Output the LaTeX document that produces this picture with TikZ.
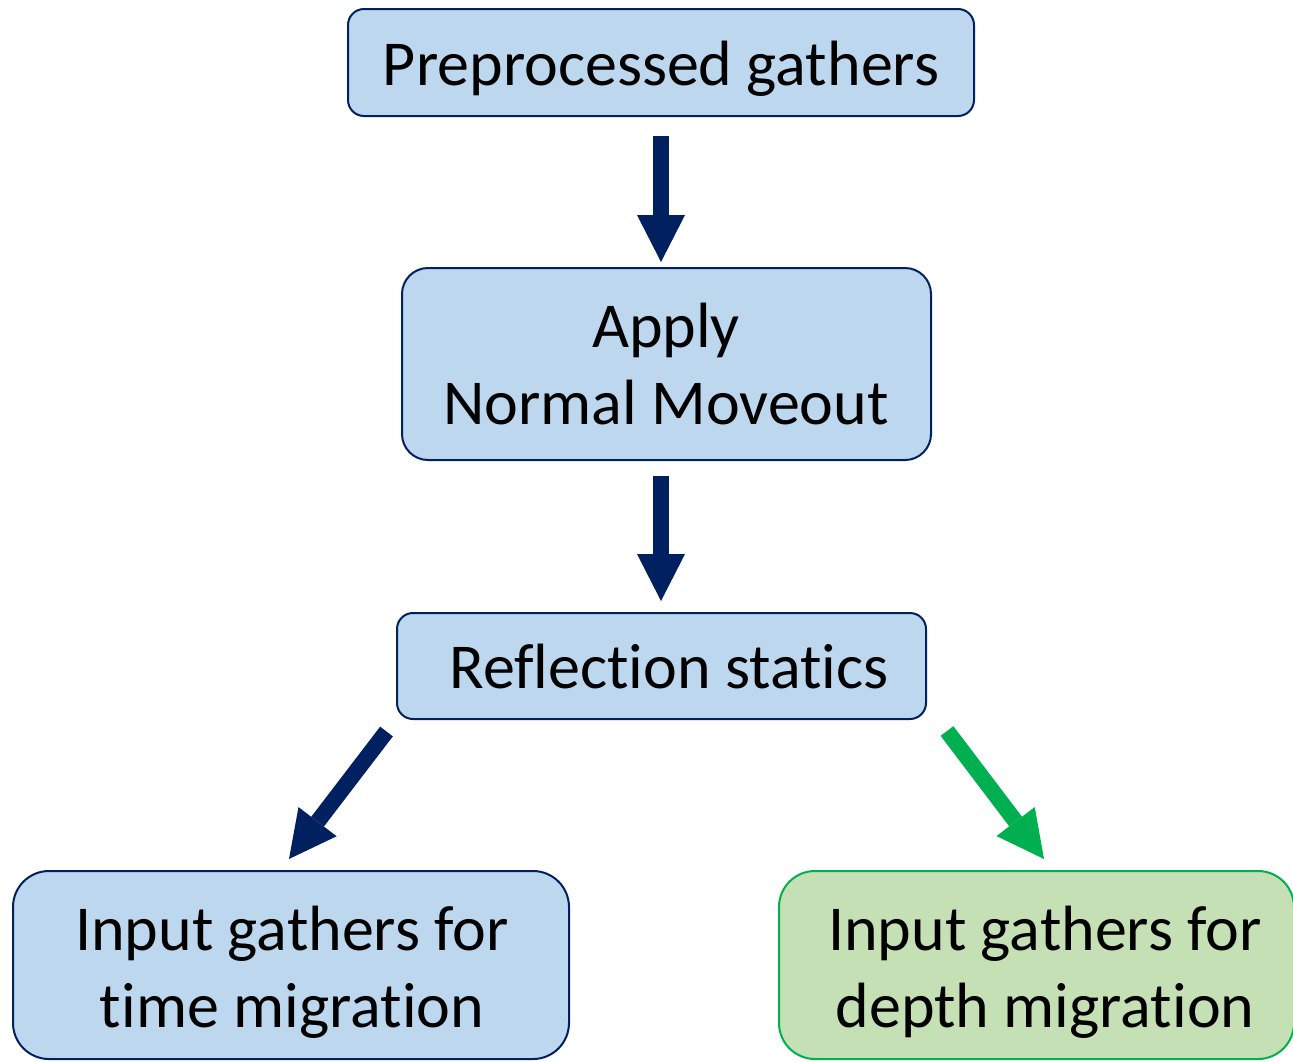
\documentclass[tikz,border=0pt]{standalone}
\usepackage{fontspec}
\setmainfont{Carlito}[Ligatures=NoCommon]
\usetikzlibrary{arrows.meta}
\definecolor{navy}{HTML}{002060}
\definecolor{boxblue}{HTML}{BDD7EE}
\definecolor{mygreen}{HTML}{00B050}
\definecolor{boxgreen}{HTML}{C5E0B4}
\begin{document}
\begin{tikzpicture}[x=1pt,y=-1pt,
  bluebox/.style={draw=navy, fill=boxblue, line width=2pt, inner sep=0pt},
  greenbox/.style={draw=mygreen, fill=boxgreen, line width=2pt, inner sep=0pt},
  lbl/.style={font=\fontsize{64}{77}\selectfont, align=center, inner sep=0pt, anchor=base},
  blockarrow/.style={line width=16pt, -{Triangle[width=48pt,length=47pt,line width=0pt]}}
]
\useasboundingbox (0,0) rectangle (1293,1061);
\clip (0,0) rectangle (1293,1061);
% boxes
\node[bluebox, rounded corners=16pt, minimum width=626pt, minimum height=107pt] (pre) at (661,62.5) {};
\node[bluebox, rounded corners=26pt, minimum width=529pt, minimum height=192pt] (nmo) at (666.5,364) {};
\node[bluebox, rounded corners=16pt, minimum width=529pt, minimum height=106pt] (ref) at (661.5,666) {};
\node[bluebox, rounded corners=36pt, minimum width=556pt, minimum height=188pt] (tm) at (291,965) {};
\node[greenbox, rounded corners=36pt, minimum width=515pt, minimum height=188pt] (dm) at (1036.5,965) {};
% labels
\node[lbl] (preT) at (661,85) {Preprocessed gathers};
\node[lbl] (nmoT) at (666,424) {Apply\\Normal Moveout};
\node[lbl] (refT) at (669,688) {Reflection statics};
\node[lbl] (tmT) at (292,1027) {Input gathers for\\time migration};
\node[lbl] (dmT) at (1045,1027) {Input gathers for\\depth migration};
% arrows
\coordinate (a1s) at (661,136);
\coordinate (a1e) at (661,262);
\coordinate (a2s) at (661,476);
\coordinate (a2e) at (661,601);
\coordinate (a3s) at (386.5,731.5);
\coordinate (a3e) at (289,859);
\coordinate (a4s) at (947,731);
\coordinate (a4e) at (1044,859);
\draw[blockarrow, navy] (a1s) -- (a1e);
\draw[blockarrow, navy] (a2s) -- (a2e);
\draw[blockarrow, navy] (a3s) -- (a3e);
\draw[blockarrow, mygreen] (a4s) -- (a4e);
\end{tikzpicture}
\end{document}
